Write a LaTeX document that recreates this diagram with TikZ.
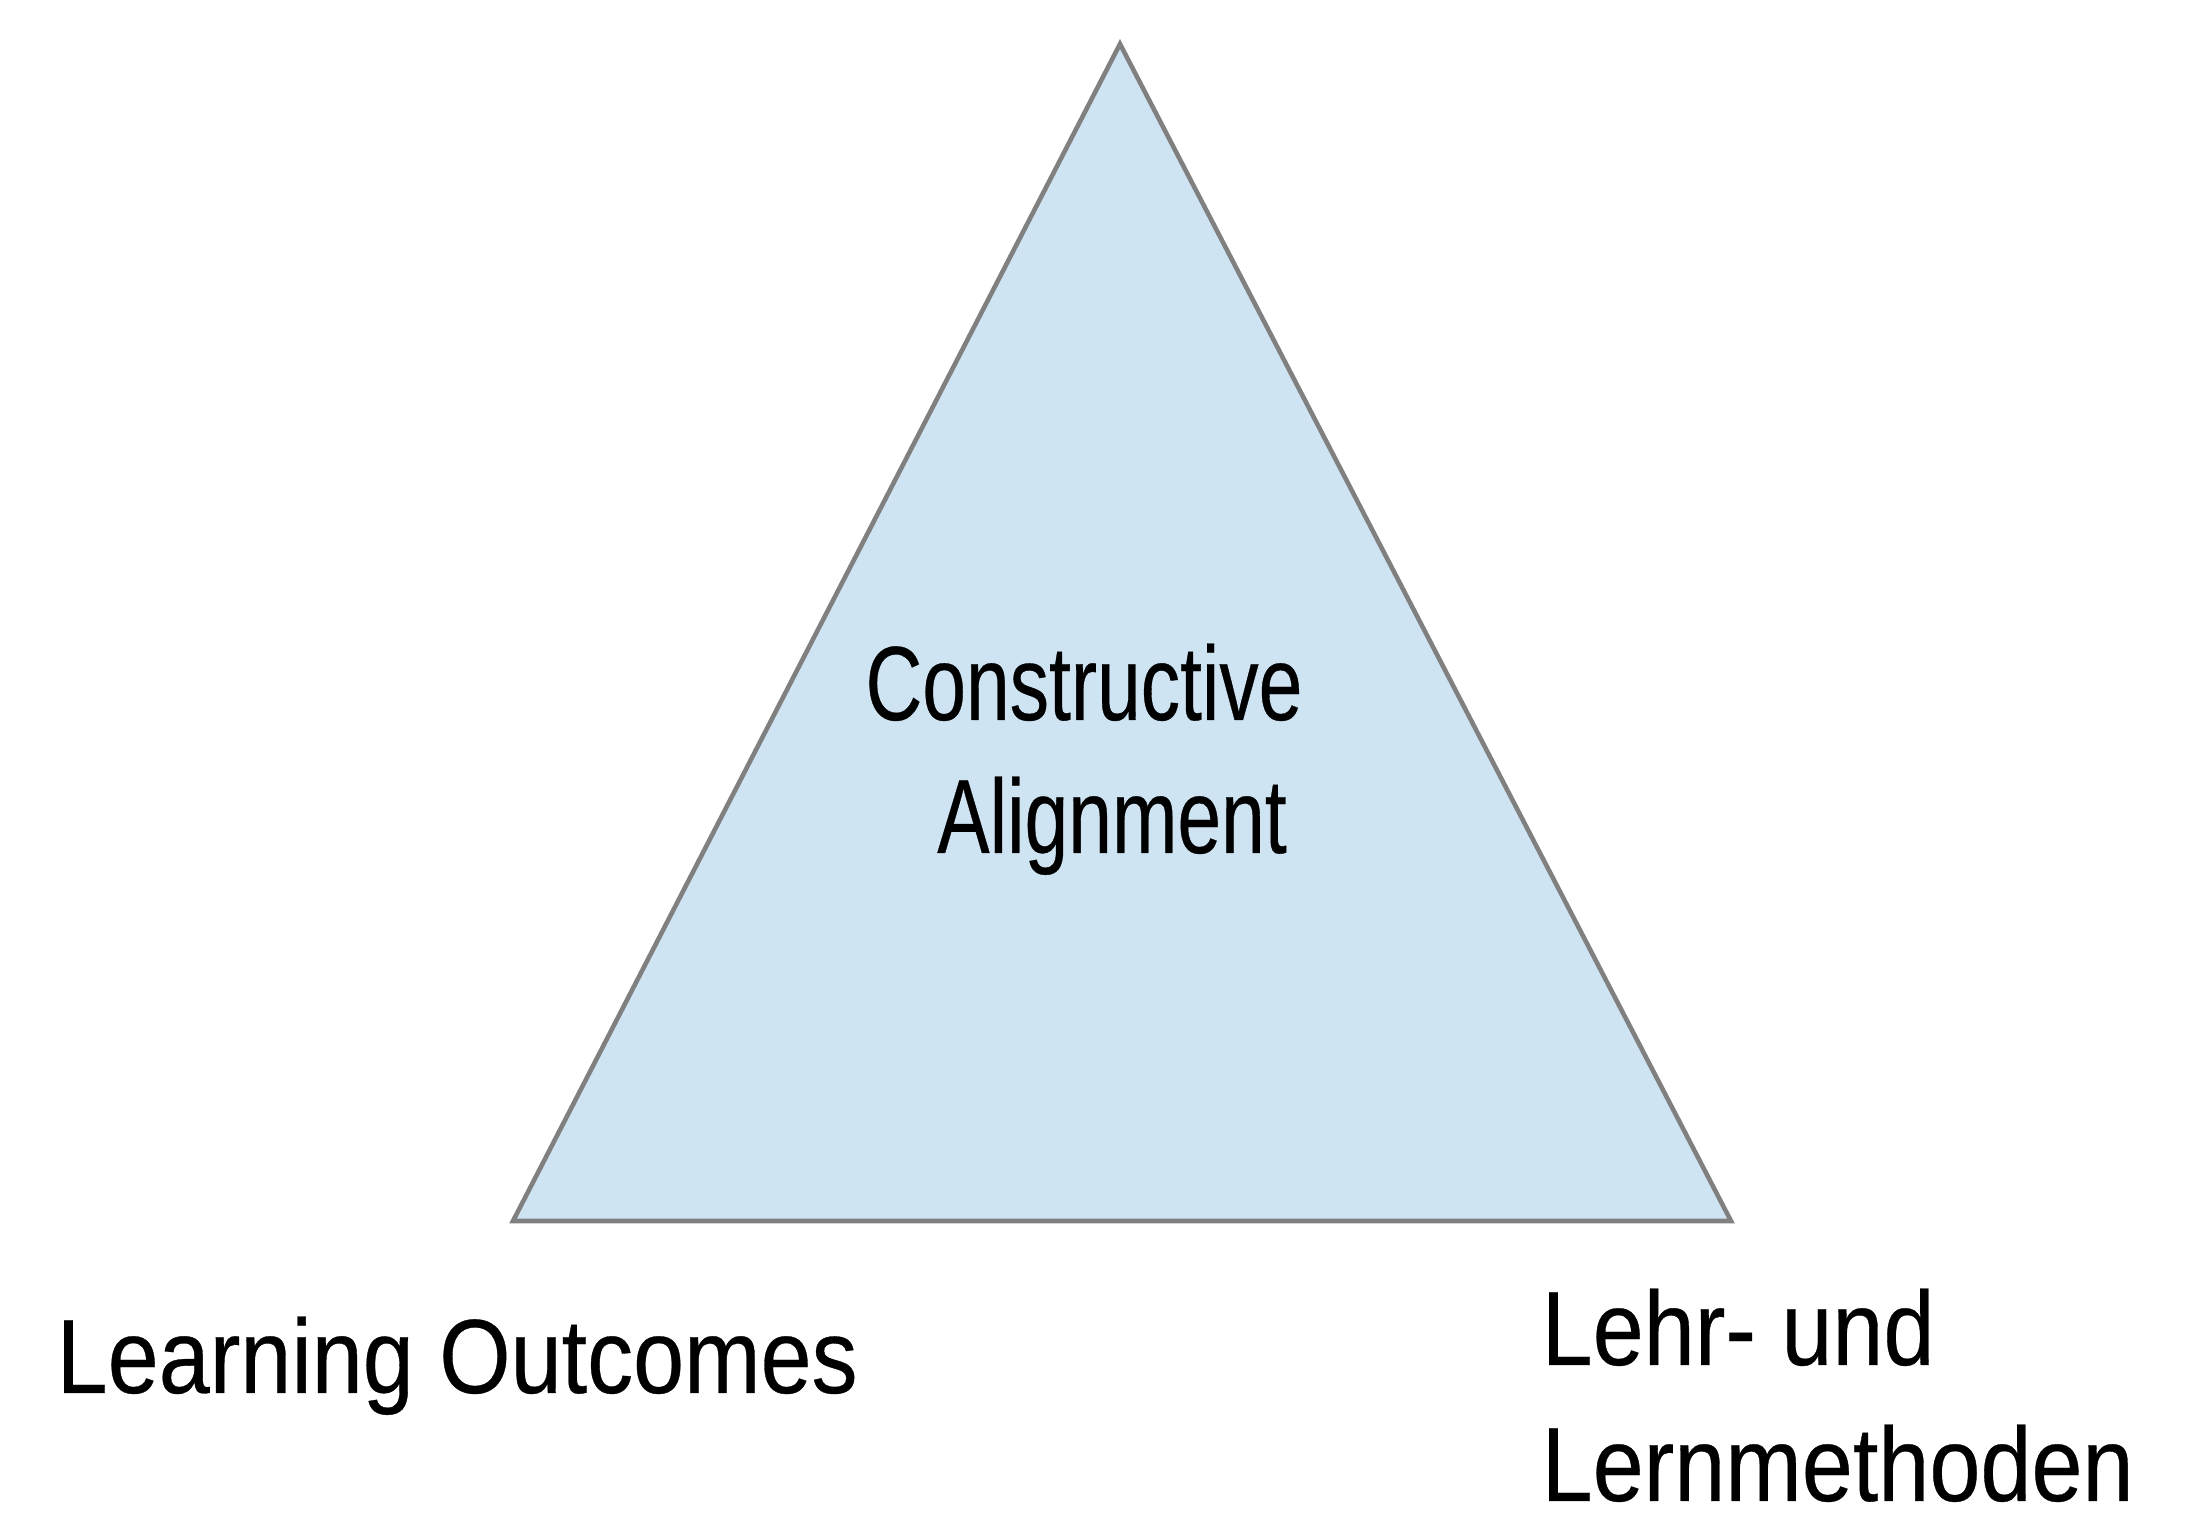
\documentclass[tikz,border=0pt]{standalone}
\usepackage{fontspec}
\newfontfamily\labelfont[FakeStretch=0.87, FakeBold=0.3]{Liberation Sans}
\newfontfamily\middlefont[FakeStretch=0.745, FakeBold=0.3]{Liberation Sans}
\definecolor{trifill}{RGB}{207,228,242}
\definecolor{triline}{RGB}{128,128,128}

\begin{document}
\begin{tikzpicture}[x=0.01cm, y=0.01cm,
        corner text/.style={font=\labelfont\fontsize{30}{38}\selectfont, inner sep=0pt, anchor=base west},
        middle text/.style={font=\middlefont\fontsize{30}{38}\selectfont, inner sep=0pt, anchor=base}]
            % Page frame
            \useasboundingbox (0,0) rectangle (2196,1521);

            % Corners of the triangle
            \coordinate (top) at (1120,1477);
            \coordinate (left) at (513,300);
            \coordinate (right) at (1731,300);

            % Draw triangle
            \filldraw[fill=trifill, draw=triline, line width=1.3pt] (top) -- (left) -- (right) -- cycle;

            % Text in the middle
            \node[middle text] (constructive) at (1084,801) {Constructive};
            \node[middle text] (alignment) at (1112,668) {Alignment};

            % Text under the corners
            \node[corner text] (outcomes) at (56,128) {Learning Outcomes};
            \node[corner text] (lehr) at (1541,156) {Lehr- und};
            \node[corner text] (methoden) at (1541,20) {Lernmethoden};
        \end{tikzpicture}
\end{document}
